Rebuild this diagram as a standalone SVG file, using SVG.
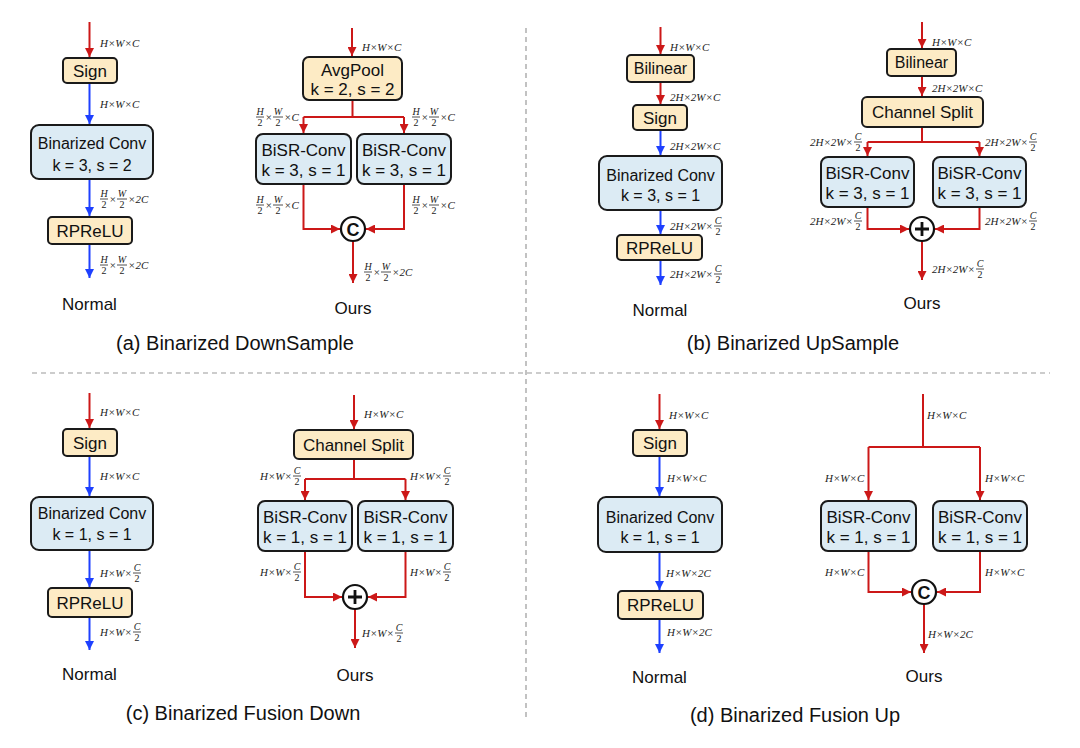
<svg xmlns="http://www.w3.org/2000/svg" width="1080" height="748" viewBox="0 0 1080 748">
<style>
.y{fill:#FDEBC5;stroke:#1a1a1a;stroke-width:2}
.b{fill:#DCEBF4;stroke:#1a1a1a;stroke-width:2}
.t{font-family:"Liberation Sans",Arial,sans-serif;font-size:17px;fill:#111;text-anchor:middle}
.t16{font-size:16px}
.cap{font-size:20px}
.m{font-family:"Liberation Serif","Times New Roman",serif;font-style:italic;font-size:11px;fill:#222}
.f{font-size:10px;text-anchor:middle}
.up{font-style:normal}
.fb{stroke:#222;stroke-width:0.8}
.r{stroke:#CC1818;stroke-width:2;fill:none}
.bl{stroke:#1E40FF;stroke-width:2;fill:none}
.dash{stroke:#9a9a9a;stroke-width:1.2;stroke-dasharray:5 4;fill:none}
.op{fill:#fff;stroke:#111;stroke-width:2.2}
.pl{stroke:#111;stroke-width:2.8}
.cc{font-family:"Liberation Sans",Arial,sans-serif;font-size:18px;font-weight:bold;fill:#111;text-anchor:middle}
</style>
<defs>
<marker id="ar" viewBox="0 0 10 10" refX="10" refY="5" markerWidth="9" markerHeight="9" markerUnits="userSpaceOnUse" orient="auto"><path d="M0,0 L10,5 L0,10 z" fill="#CC1818"/></marker>
<marker id="ab" viewBox="0 0 10 10" refX="10" refY="5" markerWidth="9" markerHeight="9" markerUnits="userSpaceOnUse" orient="auto"><path d="M0,0 L10,5 L0,10 z" fill="#1E40FF"/></marker>
</defs>
<rect width="1080" height="748" fill="#fff"/>

<g id="dividers">
<line class="dash" x1="526" y1="28" x2="526" y2="718"/>
<line class="dash" x1="32" y1="373" x2="1050" y2="373"/>
</g>

<g id="connectors">
<!-- (a) normal -->
<line class="r" x1="89.5" y1="22" x2="89.5" y2="57" marker-end="url(#ar)"/>
<line class="bl" x1="89.5" y1="83" x2="89.5" y2="124" marker-end="url(#ab)"/>
<line class="bl" x1="89.5" y1="179" x2="89.5" y2="216" marker-end="url(#ab)"/>
<line class="bl" x1="89.5" y1="244" x2="89.5" y2="278" marker-end="url(#ab)"/>
<!-- (a) ours -->
<line class="r" x1="352" y1="28" x2="352" y2="56" marker-end="url(#ar)"/>
<path class="r" d="M352.5,100 V117 M303.5,117 H404"/>
<line class="r" x1="303.5" y1="117" x2="303.5" y2="133" marker-end="url(#ar)"/>
<line class="r" x1="404" y1="117" x2="404" y2="133" marker-end="url(#ar)"/>
<path class="r" d="M303.5,184 V229 H340" marker-end="url(#ar)"/>
<path class="r" d="M404,184 V229 H366" marker-end="url(#ar)"/>
<line class="r" x1="353" y1="241" x2="353" y2="283" marker-end="url(#ar)"/>
<!-- (b) normal -->
<line class="r" x1="660.5" y1="27" x2="660.5" y2="54" marker-end="url(#ar)"/>
<line class="r" x1="660.5" y1="82" x2="660.5" y2="104" marker-end="url(#ar)"/>
<line class="bl" x1="660.5" y1="130" x2="660.5" y2="155" marker-end="url(#ab)"/>
<line class="bl" x1="660.5" y1="210" x2="660.5" y2="234" marker-end="url(#ab)"/>
<line class="bl" x1="660.5" y1="260" x2="660.5" y2="285" marker-end="url(#ab)"/>
<!-- (b) ours -->
<line class="r" x1="922" y1="22" x2="922" y2="48" marker-end="url(#ar)"/>
<line class="r" x1="922" y1="76" x2="922" y2="96" marker-end="url(#ar)"/>
<path class="r" d="M922,127 V142 M867.5,142 H979.5"/>
<line class="r" x1="867.5" y1="142" x2="867.5" y2="156" marker-end="url(#ar)"/>
<line class="r" x1="979.5" y1="142" x2="979.5" y2="156" marker-end="url(#ar)"/>
<path class="r" d="M867.5,207 V229 H909" marker-end="url(#ar)"/>
<path class="r" d="M979.5,207 V229 H935" marker-end="url(#ar)"/>
<line class="r" x1="922" y1="241" x2="922" y2="280" marker-end="url(#ar)"/>
<!-- (c) normal -->
<line class="r" x1="89.5" y1="393" x2="89.5" y2="428" marker-end="url(#ar)"/>
<line class="bl" x1="89.5" y1="456" x2="89.5" y2="496" marker-end="url(#ab)"/>
<line class="bl" x1="89.5" y1="550" x2="89.5" y2="587" marker-end="url(#ab)"/>
<line class="bl" x1="89.5" y1="617" x2="89.5" y2="650" marker-end="url(#ab)"/>
<!-- (c) ours -->
<line class="r" x1="354" y1="395" x2="354" y2="429" marker-end="url(#ar)"/>
<path class="r" d="M354,459 V479 M305,479 H405.5"/>
<line class="r" x1="305" y1="479" x2="305" y2="500" marker-end="url(#ar)"/>
<line class="r" x1="405.5" y1="479" x2="405.5" y2="500" marker-end="url(#ar)"/>
<path class="r" d="M305,551 V597 H342" marker-end="url(#ar)"/>
<path class="r" d="M405.5,551 V597 H368" marker-end="url(#ar)"/>
<line class="r" x1="355" y1="609" x2="355" y2="648" marker-end="url(#ar)"/>
<!-- (d) normal -->
<line class="r" x1="659.5" y1="394" x2="659.5" y2="429" marker-end="url(#ar)"/>
<line class="bl" x1="659.5" y1="456" x2="659.5" y2="496" marker-end="url(#ab)"/>
<line class="bl" x1="659.5" y1="552" x2="659.5" y2="590" marker-end="url(#ab)"/>
<line class="bl" x1="659.5" y1="619" x2="659.5" y2="653" marker-end="url(#ab)"/>
<!-- (d) ours -->
<path class="r" d="M923,394 V447 M868.5,447 H980"/>
<line class="r" x1="868.5" y1="447" x2="868.5" y2="500" marker-end="url(#ar)"/>
<line class="r" x1="980" y1="447" x2="980" y2="500" marker-end="url(#ar)"/>
<path class="r" d="M868.5,551 V592 H911" marker-end="url(#ar)"/>
<path class="r" d="M980,551 V592 H937" marker-end="url(#ar)"/>
<line class="r" x1="924" y1="604" x2="924" y2="653" marker-end="url(#ar)"/>
</g>

<!-- ===== (a) ===== -->
<g id="a-sign"><rect class="y" x="63" y="58" width="54" height="25" rx="4"/><text class="t" x="90" y="76.5">Sign</text></g>
<g id="a-bconv"><rect class="b" x="31" y="125" width="122" height="54" rx="8"/><text class="t t16" x="92" y="148.5">Binarized Conv</text><text class="t t16" x="92" y="170.5">k = 3, s = 2</text></g>
<g id="a-rprelu"><rect class="y" x="48" y="217" width="84" height="27" rx="4"/><text class="t" x="90" y="236.5">RPReLU</text></g>
<g id="a-avgpool"><rect class="y" x="303" y="57" width="99" height="43" rx="6"/><text class="t" x="352.5" y="76">AvgPool</text><text class="t" x="352.5" y="95">k = 2, s = 2</text></g>
<g id="a-bisr1"><rect class="b" x="256" y="134" width="95" height="50" rx="7"/><text class="t" x="303.5" y="156">BiSR-Conv</text><text class="t" x="303.5" y="176">k = 3, s = 1</text></g>
<g id="a-bisr2"><rect class="b" x="357" y="134" width="94" height="50" rx="7"/><text class="t" x="404" y="156">BiSR-Conv</text><text class="t" x="404" y="176">k = 3, s = 1</text></g>
<g id="a-concat"><circle class="op" cx="353" cy="229" r="12"/><text class="cc" x="353" y="235.5">C</text></g>
<g id="a-labels">
<text class="m" x="100" y="47">H×W×C</text>
<text class="m" x="100" y="108">H×W×C</text>
<g transform="translate(100,199)"><text class="m f" x="4" y="-2.5">H</text><line class="fb" x1="0" y1="0" x2="8" y2="0"/><text class="m f up" x="4" y="8.5">2</text><text class="m" x="9" y="3.5">×</text><text class="m f" x="22" y="-2.5">W</text><line class="fb" x1="17" y1="0" x2="27" y2="0"/><text class="m f up" x="22" y="8.5">2</text><text class="m" x="28" y="3.5">×2C</text></g>
<g transform="translate(100,265)"><text class="m f" x="4" y="-2.5">H</text><line class="fb" x1="0" y1="0" x2="8" y2="0"/><text class="m f up" x="4" y="8.5">2</text><text class="m" x="9" y="3.5">×</text><text class="m f" x="22" y="-2.5">W</text><line class="fb" x1="17" y1="0" x2="27" y2="0"/><text class="m f up" x="22" y="8.5">2</text><text class="m" x="28" y="3.5">×2C</text></g>
<text class="m" x="362" y="51">H×W×C</text>
<g transform="translate(256,117)"><text class="m f" x="4" y="-2.5">H</text><line class="fb" x1="0" y1="0" x2="8" y2="0"/><text class="m f up" x="4" y="8.5">2</text><text class="m" x="9" y="3.5">×</text><text class="m f" x="22" y="-2.5">W</text><line class="fb" x1="17" y1="0" x2="27" y2="0"/><text class="m f up" x="22" y="8.5">2</text><text class="m" x="28" y="3.5">×C</text></g>
<g transform="translate(412,117)"><text class="m f" x="4" y="-2.5">H</text><line class="fb" x1="0" y1="0" x2="8" y2="0"/><text class="m f up" x="4" y="8.5">2</text><text class="m" x="9" y="3.5">×</text><text class="m f" x="22" y="-2.5">W</text><line class="fb" x1="17" y1="0" x2="27" y2="0"/><text class="m f up" x="22" y="8.5">2</text><text class="m" x="28" y="3.5">×C</text></g>
<g transform="translate(256,205)"><text class="m f" x="4" y="-2.5">H</text><line class="fb" x1="0" y1="0" x2="8" y2="0"/><text class="m f up" x="4" y="8.5">2</text><text class="m" x="9" y="3.5">×</text><text class="m f" x="22" y="-2.5">W</text><line class="fb" x1="17" y1="0" x2="27" y2="0"/><text class="m f up" x="22" y="8.5">2</text><text class="m" x="28" y="3.5">×C</text></g>
<g transform="translate(412,205)"><text class="m f" x="4" y="-2.5">H</text><line class="fb" x1="0" y1="0" x2="8" y2="0"/><text class="m f up" x="4" y="8.5">2</text><text class="m" x="9" y="3.5">×</text><text class="m f" x="22" y="-2.5">W</text><line class="fb" x1="17" y1="0" x2="27" y2="0"/><text class="m f up" x="22" y="8.5">2</text><text class="m" x="28" y="3.5">×C</text></g>
<g transform="translate(364,272)"><text class="m f" x="4" y="-2.5">H</text><line class="fb" x1="0" y1="0" x2="8" y2="0"/><text class="m f up" x="4" y="8.5">2</text><text class="m" x="9" y="3.5">×</text><text class="m f" x="22" y="-2.5">W</text><line class="fb" x1="17" y1="0" x2="27" y2="0"/><text class="m f up" x="22" y="8.5">2</text><text class="m" x="28" y="3.5">×2C</text></g>
</g>
<g id="a-titles">
<text class="t" x="89.5" y="310">Normal</text>
<text class="t" x="353" y="314">Ours</text>
<text class="t cap" x="235" y="350">(a) Binarized DownSample</text>
</g>

<!-- ===== (b) ===== -->
<g id="b-bilinear"><rect class="y" x="627" y="55" width="67" height="27" rx="4"/><text class="t t16" x="660.5" y="74">Bilinear</text></g>
<g id="b-sign"><rect class="y" x="633" y="105" width="54" height="25" rx="4"/><text class="t" x="660" y="123.5">Sign</text></g>
<g id="b-bconv"><rect class="b" x="599" y="156" width="123" height="54" rx="8"/><text class="t t16" x="660.5" y="181">Binarized Conv</text><text class="t t16" x="660.5" y="201">k = 3, s = 1</text></g>
<g id="b-rprelu"><rect class="y" x="617" y="235" width="85" height="25" rx="4"/><text class="t" x="659.5" y="253.5">RPReLU</text></g>
<g id="b-bilinear2"><rect class="y" x="887" y="49" width="69" height="27" rx="4"/><text class="t t16" x="921.5" y="68">Bilinear</text></g>
<g id="b-split"><rect class="y" x="862" y="97" width="121" height="30" rx="5"/><text class="t" x="922.5" y="118">Channel Split</text></g>
<g id="b-bisr1"><rect class="b" x="821" y="157" width="93" height="50" rx="7"/><text class="t" x="867.5" y="179">BiSR-Conv</text><text class="t" x="867.5" y="199">k = 3, s = 1</text></g>
<g id="b-bisr2"><rect class="b" x="933" y="157" width="93" height="50" rx="7"/><text class="t" x="979.5" y="179">BiSR-Conv</text><text class="t" x="979.5" y="199">k = 3, s = 1</text></g>
<g id="b-add"><circle class="op" cx="922" cy="229" r="12"/><path class="pl" d="M915,229 H929 M922,222 V236"/></g>
<g id="b-labels">
<text class="m" x="670" y="51">H×W×C</text>
<text class="m" x="670" y="101">2H×2W×C</text>
<text class="m" x="670" y="150">2H×2W×C</text>
<g transform="translate(670,226)"><text class="m" x="0" y="3.5">2H×2W×</text><text class="m f" x="48" y="-2.5">C</text><line class="fb" x1="44" y1="0" x2="52" y2="0"/><text class="m f up" x="48" y="8.5">2</text></g>
<g transform="translate(670,274)"><text class="m" x="0" y="3.5">2H×2W×</text><text class="m f" x="48" y="-2.5">C</text><line class="fb" x1="44" y1="0" x2="52" y2="0"/><text class="m f up" x="48" y="8.5">2</text></g>
<text class="m" x="932" y="46">H×W×C</text>
<text class="m" x="932" y="92">2H×2W×C</text>
<g transform="translate(810,142)"><text class="m" x="0" y="3.5">2H×2W×</text><text class="m f" x="48" y="-2.5">C</text><line class="fb" x1="44" y1="0" x2="52" y2="0"/><text class="m f up" x="48" y="8.5">2</text></g>
<g transform="translate(985,142)"><text class="m" x="0" y="3.5">2H×2W×</text><text class="m f" x="48" y="-2.5">C</text><line class="fb" x1="44" y1="0" x2="52" y2="0"/><text class="m f up" x="48" y="8.5">2</text></g>
<g transform="translate(810,221)"><text class="m" x="0" y="3.5">2H×2W×</text><text class="m f" x="48" y="-2.5">C</text><line class="fb" x1="44" y1="0" x2="52" y2="0"/><text class="m f up" x="48" y="8.5">2</text></g>
<g transform="translate(985,221)"><text class="m" x="0" y="3.5">2H×2W×</text><text class="m f" x="48" y="-2.5">C</text><line class="fb" x1="44" y1="0" x2="52" y2="0"/><text class="m f up" x="48" y="8.5">2</text></g>
<g transform="translate(932,269)"><text class="m" x="0" y="3.5">2H×2W×</text><text class="m f" x="48" y="-2.5">C</text><line class="fb" x1="44" y1="0" x2="52" y2="0"/><text class="m f up" x="48" y="8.5">2</text></g>
</g>
<g id="b-titles">
<text class="t" x="660" y="316">Normal</text>
<text class="t" x="922" y="309">Ours</text>
<text class="t cap" x="793" y="350">(b) Binarized UpSample</text>
</g>

<!-- ===== (c) ===== -->
<g id="c-sign"><rect class="y" x="63" y="429" width="54" height="27" rx="4"/><text class="t" x="90" y="448.5">Sign</text></g>
<g id="c-bconv"><rect class="b" x="31" y="497" width="122" height="53" rx="8"/><text class="t t16" x="92" y="519">Binarized Conv</text><text class="t t16" x="92" y="540">k = 1, s = 1</text></g>
<g id="c-rprelu"><rect class="y" x="48" y="588" width="84" height="29" rx="4"/><text class="t" x="90" y="608.5">RPReLU</text></g>
<g id="c-split"><rect class="y" x="294" y="430" width="119" height="29" rx="5"/><text class="t" x="353.5" y="450.5">Channel Split</text></g>
<g id="c-bisr1"><rect class="b" x="258" y="501" width="94" height="50" rx="7"/><text class="t" x="305" y="523">BiSR-Conv</text><text class="t" x="305" y="543">k = 1, s = 1</text></g>
<g id="c-bisr2"><rect class="b" x="358" y="501" width="95" height="50" rx="7"/><text class="t" x="405.5" y="523">BiSR-Conv</text><text class="t" x="405.5" y="543">k = 1, s = 1</text></g>
<g id="c-add"><circle class="op" cx="355" cy="597" r="12"/><path class="pl" d="M348,597 H362 M355,590 V604"/></g>
<g id="c-labels">
<text class="m" x="100" y="416">H×W×C</text>
<text class="m" x="100" y="480">H×W×C</text>
<g transform="translate(100,573)"><text class="m" x="0" y="3.5">H×W×</text><text class="m f" x="37" y="-2.5">C</text><line class="fb" x1="33" y1="0" x2="41" y2="0"/><text class="m f up" x="37" y="8.5">2</text></g>
<g transform="translate(100,632)"><text class="m" x="0" y="3.5">H×W×</text><text class="m f" x="37" y="-2.5">C</text><line class="fb" x1="33" y1="0" x2="41" y2="0"/><text class="m f up" x="37" y="8.5">2</text></g>
<text class="m" x="364" y="418">H×W×C</text>
<g transform="translate(260,476)"><text class="m" x="0" y="3.5">H×W×</text><text class="m f" x="37" y="-2.5">C</text><line class="fb" x1="33" y1="0" x2="41" y2="0"/><text class="m f up" x="37" y="8.5">2</text></g>
<g transform="translate(410,476)"><text class="m" x="0" y="3.5">H×W×</text><text class="m f" x="37" y="-2.5">C</text><line class="fb" x1="33" y1="0" x2="41" y2="0"/><text class="m f up" x="37" y="8.5">2</text></g>
<g transform="translate(260,572)"><text class="m" x="0" y="3.5">H×W×</text><text class="m f" x="37" y="-2.5">C</text><line class="fb" x1="33" y1="0" x2="41" y2="0"/><text class="m f up" x="37" y="8.5">2</text></g>
<g transform="translate(410,572)"><text class="m" x="0" y="3.5">H×W×</text><text class="m f" x="37" y="-2.5">C</text><line class="fb" x1="33" y1="0" x2="41" y2="0"/><text class="m f up" x="37" y="8.5">2</text></g>
<g transform="translate(362,633)"><text class="m" x="0" y="3.5">H×W×</text><text class="m f" x="37" y="-2.5">C</text><line class="fb" x1="33" y1="0" x2="41" y2="0"/><text class="m f up" x="37" y="8.5">2</text></g>
</g>
<g id="c-titles">
<text class="t" x="89.5" y="680">Normal</text>
<text class="t" x="355" y="681">Ours</text>
<text class="t cap" x="243" y="720">(c) Binarized Fusion Down</text>
</g>

<!-- ===== (d) ===== -->
<g id="d-sign"><rect class="y" x="633" y="430" width="54" height="26" rx="4"/><text class="t" x="660" y="449">Sign</text></g>
<g id="d-bconv"><rect class="b" x="598" y="497" width="124" height="55" rx="8"/><text class="t t16" x="660" y="523">Binarized Conv</text><text class="t t16" x="660" y="543">k = 1, s = 1</text></g>
<g id="d-rprelu"><rect class="y" x="618" y="591" width="85" height="28" rx="4"/><text class="t" x="660.5" y="611">RPReLU</text></g>
<g id="d-bisr1"><rect class="b" x="821" y="501" width="95" height="50" rx="7"/><text class="t" x="868.5" y="523">BiSR-Conv</text><text class="t" x="868.5" y="543">k = 1, s = 1</text></g>
<g id="d-bisr2"><rect class="b" x="933" y="501" width="94" height="50" rx="7"/><text class="t" x="980" y="523">BiSR-Conv</text><text class="t" x="980" y="543">k = 1, s = 1</text></g>
<g id="d-concat"><circle class="op" cx="924" cy="592" r="12"/><text class="cc" x="924" y="598.5">C</text></g>
<g id="d-labels">
<text class="m" x="669" y="419">H×W×C</text>
<text class="m" x="667" y="482">H×W×C</text>
<text class="m" x="666" y="577">H×W×2C</text>
<text class="m" x="667" y="636">H×W×2C</text>
<text class="m" x="927" y="419">H×W×C</text>
<text class="m" x="825" y="482">H×W×C</text>
<text class="m" x="985" y="482">H×W×C</text>
<text class="m" x="825" y="576">H×W×C</text>
<text class="m" x="985" y="576">H×W×C</text>
<text class="m" x="928" y="638">H×W×2C</text>
</g>
<g id="d-titles">
<text class="t" x="659.5" y="683">Normal</text>
<text class="t" x="924" y="682">Ours</text>
<text class="t cap" x="795" y="722">(d) Binarized Fusion Up</text>
</g>
</svg>
